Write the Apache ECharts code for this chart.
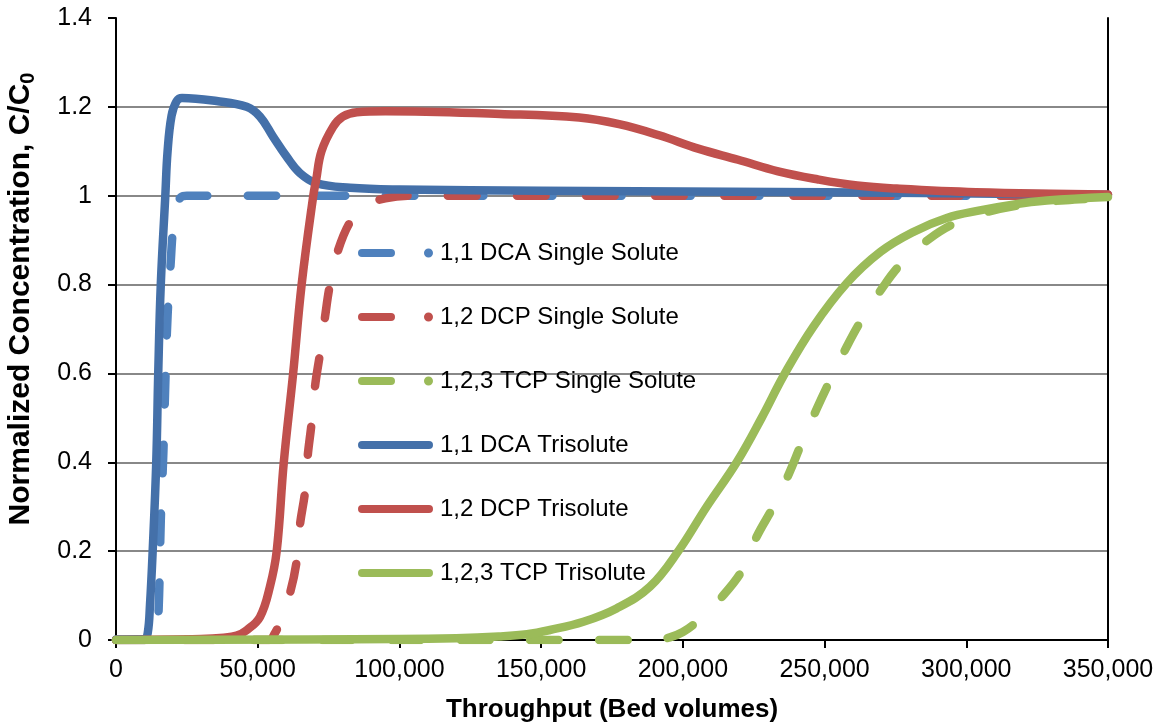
<!DOCTYPE html>
<html>
<head>
<meta charset="utf-8">
<script src="https://cdn.jsdelivr.net/npm/echarts@6/dist/echarts.min.js"></script>
<style>
html,body{margin:0;padding:0;background:#fff;}
#chart{width:1164px;height:725px;}
</style>
</head>
<body>
<div id="chart"></div>
<script>
// ---------------- data ----------------
const seriesNames = [
  '1,1 DCA Single Solute',
  '1,2 DCP Single Solute',
  '1,2,3 TCP Single Solute',
  '1,1 DCA Trisolute',
  '1,2 DCP Trisolute',
  '1,2,3 TCP Trisolute'
];

const xTicks = [0, 50000, 100000, 150000, 200000, 250000, 300000, 350000];
const yTicks = [0, 0.2, 0.4, 0.6, 0.8, 1, 1.2, 1.4];

// [bed volumes, C/C0]
const dcaSingle = [
  [0,0],[14000,0],[14600,0.02],[15200,0.1],[15800,0.27],[16700,0.42],[17500,0.6],
  [18200,0.73],[19300,0.85],[20200,0.93],[21500,0.98],[23000,0.997],[25000,1.0],[350000,1.0]
];
const dcpSingle = [
  [0,0],[54000,0],[56100,0.016],[57900,0.04],[61400,0.106],[63700,0.176],[64900,0.259],
  [66700,0.334],[67600,0.412],[69000,0.488],[70200,0.57],[72000,0.646],[73700,0.725],
  [75500,0.8],[78400,0.878],[83000,0.945],[88000,0.978],[95000,0.994],[105000,1.0],[350000,1.0]
];
const tcpSingle = [
  [0,0],[190000,0],[195400,0.006],[200000,0.018],[204900,0.041],[214300,0.101],[221300,0.161],
  [226000,0.232],[231900,0.3],[237200,0.371],[241900,0.443],[247200,0.52],[252000,0.585],
  [257800,0.66],[263000,0.72],[270100,0.79],[277200,0.848],[287200,0.904],[297000,0.941],
  [307000,0.963],[320000,0.98],[335000,0.99],[350000,0.995]
];
const dcaTri = [
  [0,0.001],[10000,0.002],[11200,0.016],[12000,0.08],[12940,0.2],[14200,0.4],[14900,0.6],
  [15800,0.8],[17400,1.0],[18200,1.1],[19600,1.18],[21400,1.213],[23300,1.22],[35500,1.213],
  [46100,1.2],[50800,1.178],[55400,1.133],[60200,1.088],[64900,1.051],[70800,1.028],
  [82600,1.018],[100000,1.014],[150000,1.011],[250000,1.008],[320000,1.004],[350000,1.002]
];
const dcpTri = [
  [0,0],[30000,0.002],[38000,0.005],[42600,0.01],[46100,0.022],[50800,0.052],[54300,0.12],
  [56700,0.2],[59200,0.4],[62500,0.6],[65500,0.8],[69600,1.0],[70600,1.035],[72500,1.1],
  [76600,1.155],[80000,1.178],[85000,1.188],[95000,1.19],[135500,1.184],[163400,1.176],
  [177500,1.161],[191600,1.136],[205400,1.106],[219500,1.081],[233600,1.055],[247400,1.037],
  [261500,1.023],[275500,1.016],[303400,1.008],[350000,1.003]
];
const tcpTri = [
  [0,0],[100000,0.002],[120000,0.004],[135000,0.008],[145000,0.013],[153100,0.0225],
  [164900,0.041],[176600,0.071],[188400,0.12],[198400,0.2],[208400,0.3],[219000,0.4],
  [227800,0.5],[236000,0.6],[246000,0.705],[257800,0.803],[269800,0.874],[281500,0.919],
  [293100,0.95],[304800,0.967],[316400,0.98],[328400,0.989],[350000,0.997]
];

const seriesData = [dcaSingle, dcpSingle, tcpSingle, dcaTri, dcpTri, tcpTri];
const seriesColors = ['#4F81BD', '#C0504D', '#9BBB59', '#4470A9', '#C0504D', '#9BBB59'];
const seriesDashed = [true, true, true, false, false, false];

// ---------------- chart ----------------
const FONT = "'Liberation Sans', Arial, sans-serif";
const dashIcon = 'path://M4,0.5 H33 A4,4 0 0 1 33,8.5 H4 A4,4 0 0 1 4,0.5 Z M70.5,0 A4.5,4.5 0 1 1 70.5,9 A4.5,4.5 0 1 1 70.5,0 Z';
const solidIcon = 'path://M4,0.5 H71 A4,4 0 0 1 71,8.5 H4 A4,4 0 0 1 4,0.5 Z M75,0 L75,9 L74.99,9 L74.99,0 Z';

const chart = echarts.init(document.getElementById('chart'), null, {renderer: 'canvas'});

const series = seriesNames.map((name, i) => ({
  name: name,
  type: 'line',
  data: seriesData[i],
  showSymbol: false,
  symbol: 'none',
  smooth: 0.4,
  color: seriesColors[i],
  itemStyle: {color: seriesColors[i]},
  lineStyle: {
    color: seriesColors[i],
    width: 8.5,
    type: seriesDashed[i] ? [28.5, 40.5] : 'solid',
    cap: 'round',
    join: 'round'
  },
  emphasis: {disabled: true},
  z: 2
}));

chart.setOption({
  animation: false,
  backgroundColor: '#ffffff',
  grid: {left: 116, right: 56, top: 18, bottom: 85, containLabel: false, outerBoundsMode: 'none'},
  legend: {
    orient: 'vertical',
    left: 358,
    top: 240,
    padding: 0,
    itemWidth: 75,
    itemHeight: 9,
    itemGap: 38,
    selectedMode: false,
    itemStyle: {borderWidth: 0},
    textStyle: {fontFamily: FONT, fontSize: 24, color: '#000', lineHeight: 26, padding: [0, 0, 0, 2]},
    data: seriesNames.map((n, i) => ({name: n, icon: seriesDashed[i] ? dashIcon : solidIcon}))
  },
  xAxis: {
    type: 'value',
    min: xTicks[0],
    max: xTicks[xTicks.length - 1],
    interval: xTicks[1] - xTicks[0],
    name: 'Throughput (Bed volumes)',
    nameLocation: 'middle',
    nameGap: 57,
    nameTextStyle: {fontFamily: FONT, fontSize: 26, fontWeight: 'bold', color: '#000'},
    axisLine: {show: true, onZero: false, lineStyle: {color: '#000', width: 2}},
    axisTick: {show: true, length: 8, lineStyle: {color: '#000', width: 2}},
    axisLabel: {fontFamily: FONT, fontSize: 25, color: '#000', margin: 18},
    splitLine: {show: false}
  },
  yAxis: [{
    type: 'value',
    min: yTicks[0],
    max: yTicks[yTicks.length - 1],
    interval: 0.2,
    name: '{a|Normalized Concentration, C/C}{b|0}',
    nameLocation: 'middle',
    nameRotate: 90,
    nameGap: 78,
    nameTextStyle: {
      padding: [0, 0, 0, 60],
      rich: {
        a: {fontFamily: FONT, fontSize: 30, fontWeight: 'bold', color: '#000'},
        b: {fontFamily: FONT, fontSize: 20, fontWeight: 'bold', color: '#000', verticalAlign: 'bottom', padding: [14, 0, 0, 0]}
      }
    },
    axisLine: {show: true, lineStyle: {color: '#000', width: 2}},
    axisTick: {show: true, length: 8, lineStyle: {color: '#000', width: 2}},
    axisLabel: {fontFamily: FONT, fontSize: 25, color: '#000', margin: 24,
      formatter: v => String(Math.round(v * 10) / 10)},
    splitLine: {show: true, showMinLine: false, showMaxLine: false, lineStyle: {color: '#888888', width: 2}}
  }, {
    type: 'value',
    position: 'right',
    min: yTicks[0],
    max: yTicks[yTicks.length - 1],
    interval: 0.2,
    axisLine: {show: true, lineStyle: {color: '#000', width: 2}},
    axisTick: {show: false},
    axisLabel: {show: false},
    splitLine: {show: false}
  }],
  series: series
});
</script>
</body>
</html>
